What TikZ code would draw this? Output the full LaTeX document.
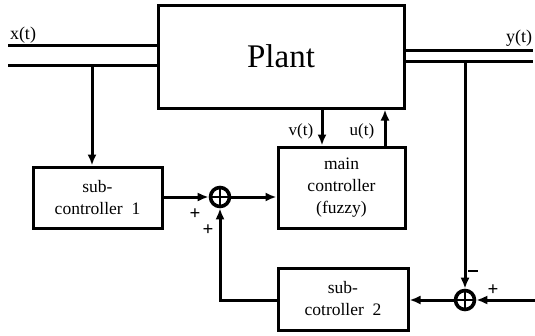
\documentclass[tikz,border=0pt]{standalone}
\usepackage{fontspec}
\setmainfont{Liberation Serif}
\usetikzlibrary{arrows.meta, positioning, calc}
\tikzset{
  % Blocks
  block/.style={
    rectangle, draw, line width=3pt, align=center,
    font=\fontsize{17.5}{22}\selectfont, inner sep=0pt,
  },
  % Summing junctions
  sumjunc/.style={
    circle, draw, line width=3.6pt, minimum size=19pt, inner sep=0pt,
    path picture={
      \draw[line width=2.6pt]
        (path picture bounding box.north) -- (path picture bounding box.south)
        (path picture bounding box.west) -- (path picture bounding box.east);
    },
  },
  % Signals
  sig/.style={line width=3pt, -{Latex[length=11pt, width=9pt]}},
  line/.style={line width=3pt},
  % Labels
  siglabel/.style={font=\fontsize{17}{18}\selectfont, inner sep=0pt},
  signlabel/.style={font=\fontsize{19}{19}\selectfont\bfseries, inner sep=0pt},
}

\begin{document}
\begin{tikzpicture}[x=1pt, y=-1pt]

  \useasboundingbox (0,0) rectangle (535,335);

  % Plant
  \node[block, minimum width=246pt, minimum height=103pt,
        font=\fontsize{33}{33}\selectfont] (plant) at (281,56.5) {Plant};

  % Controllers
  \node[block, minimum width=129pt, minimum height=61pt] (sub1) at (97.5,197.5)
    {sub-\\controller~~1};
  \node[block, minimum width=127pt, minimum height=81pt] (main) at (341.5,187.5)
    {main\\controller\\(fuzzy)};
  \node[block, minimum width=130pt, minimum height=62pt] (sub2) at (343,299)
    {sub-\\cotroller~~2};

  % Summing points
  \node[sumjunc] (sum1) at (220,197) {};
  \node[sumjunc] (sum2) at (465,300) {};

  % Input x(t)
  \coordinate (xin1) at (8,45);
  \coordinate (xin2) at (8,65);
  \coordinate (xbr) at (92,65);
  \draw[line] (xin1) -- (xin1 -| plant.west);
  \draw[line] (xin2) -- (xin2 -| plant.west);
  \node[siglabel, font=\fontsize{18}{18}\selectfont] (xlab) at (23,35) {x(t)};
  \draw[sig] (xbr) -- (xbr |- sub1.north);

  % Output y(t)
  \coordinate (yout1) at (533,50);
  \coordinate (yout2) at (533,61);
  \coordinate (ybr) at (465,61);
  \draw[line] (yout1 -| plant.east) -- (yout1);
  \draw[line] (yout2 -| plant.east) -- (yout2);
  \node[siglabel, font=\fontsize{18}{18}\selectfont] (ylab) at (519,38) {y(t)};
  \draw[sig] (ybr) -- (sum2.north);

  % Plant <-> main controller
  \coordinate (vt) at (322,108);
  \coordinate (ut) at (385,108);
  \draw[sig] (vt |- plant.south) -- (vt |- main.north);
  \draw[sig] (ut |- main.north) -- (ut |- plant.south);
  \node[siglabel] (vlab) at (301,131) {v(t)};
  \node[siglabel] (ulab) at (362,131) {u(t)};

  % Forward path
  \draw[sig] (sub1.east |- sum1) -- (sum1.west);
  \draw[sig] (sum1.east) -- (sum1 -| main.west);

  % Feedback path
  \coordinate (yref) at (535,300);
  \draw[sig] (yref) -- (sum2.east);
  \draw[sig] (sum2.west) -- (sum2 -| sub2.east);
  \draw[sig] (sum2 -| sub2.west) -| (sum1.south);

  % Signs
  \node[signlabel] (p1) at (195,214) {+};
  \node[signlabel] (p2) at (208,230) {+};
  \node[signlabel] (p3) at (493,290) {+};
  \draw[line width=2.2pt] (468,271) coordinate (m1) -- (478,271) coordinate (m2);

\end{tikzpicture}
\end{document}
